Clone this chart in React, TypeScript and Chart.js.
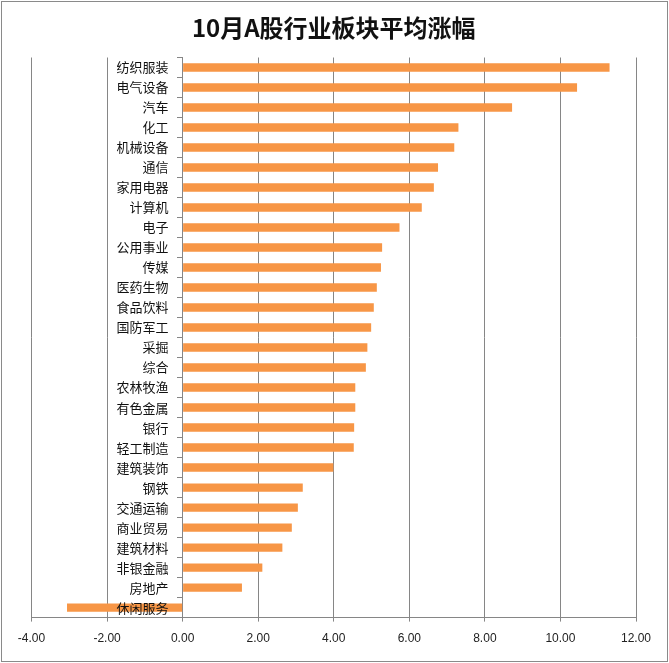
import React, { useEffect, useRef } from "react";
import { Chart, registerables } from "chart.js";

Chart.register(...registerables);

const TITLE = "10月A股行业板块平均涨幅";

const categories = [
  "纺织服装", "电气设备", "汽车", "化工", "机械设备", "通信", "家用电器",
  "计算机", "电子", "公用事业", "传媒", "医药生物", "食品饮料", "国防军工",
  "采掘", "综合", "农林牧渔", "有色金属", "银行", "轻工制造", "建筑装饰",
  "钢铁", "交通运输", "商业贸易", "建筑材料", "非银金融", "房地产", "休闲服务",
];

const values = [
  11.3, 10.44, 8.72, 7.3, 7.19, 6.76, 6.65,
  6.33, 5.74, 5.28, 5.25, 5.14, 5.06, 4.99,
  4.89, 4.85, 4.57, 4.57, 4.54, 4.53, 3.99,
  3.18, 3.05, 2.89, 2.64, 2.11, 1.57, -3.06,
];

const X_MIN = -4;
const X_MAX = 12;
const X_STEP = 2;

const LABEL_FONT = "13px 'Noto Sans CJK SC', sans-serif";
const LABEL_GAP = 14;

const borderPlugin = {
  id: "outerBorder",
  beforeDraw(chart: any) {
    const { ctx, width, height } = chart;
    ctx.save();
    ctx.fillStyle = "#ffffff";
    ctx.fillRect(0, 0, width, height);
    ctx.restore();
  },
  afterDatasetsDraw(chart: any) {
    const { ctx } = chart;
    const xs = chart.scales.x;
    const ys = chart.scales.y;
    const x0 = xs.getPixelForValue(0);
    ctx.save();
    ctx.font = LABEL_FONT;
    ctx.fillStyle = "#111";
    ctx.textAlign = "right";
    ctx.textBaseline = "middle";
    ys.ticks.forEach((_t: any, i: number) => {
      const label = ys.getLabelForValue(i);
      ctx.fillText(label, x0 - LABEL_GAP, ys.getPixelForTick(i));
    });
    ctx.restore();
  },
  afterDraw(chart: any) {
    const { ctx, width, height } = chart;
    ctx.save();
    ctx.strokeStyle = "#8a8a8a";
    ctx.lineWidth = 1;
    ctx.strokeRect(1.5, 1.5, width - 3, height - 3);
    ctx.restore();
  },
};

export default function App() {
  const ref = useRef<HTMLCanvasElement>(null);

  useEffect(() => {
    if (!ref.current) return;
    const chart = new Chart(ref.current, {
      type: "bar",
      data: {
        labels: categories,
        datasets: [
          {
            data: values,
            backgroundColor: "#F79646",
            borderWidth: 0,
            barPercentage: 0.42,
            categoryPercentage: 1,
          },
        ],
      },
      options: {
        indexAxis: "y",
        animation: false,
        responsive: false,
        maintainAspectRatio: false,
        layout: { padding: { left: 31.5, right: 33, top: 0, bottom: 7 } },
        plugins: {
          legend: { display: false },
          tooltip: { enabled: false },
          title: {
            display: true,
            text: TITLE,
            color: "#111",
            font: { family: "'Noto Sans CJK SC', sans-serif", size: 24, weight: "bold", lineHeight: 1.2 },
            padding: { top: 13, bottom: 15.7 },
          },
        },
        scales: {
          x: {
            type: "linear",
            min: X_MIN,
            max: X_MAX,
            ticks: {
              stepSize: X_STEP,
              padding: 10,
              color: "#222",
              font: { family: "'Liberation Sans', sans-serif", size: 12 },
              callback: (v: any) => Number(v).toFixed(2),
            },
            grid: { color: "#868686", lineWidth: 1, drawTicks: true, tickLength: 4 },
            border: { color: "#868686", width: 1 },
          },
          y: {
            type: "category",
            position: { x: 0 } as any,
            ticks: { display: false, autoSkip: false },
            grid: { drawOnChartArea: false, offset: true, drawTicks: true, tickLength: 5, color: "#868686" },
            border: { color: "#868686", width: 1 },
          },
        },
      },
      plugins: [borderPlugin],
    });
    return () => chart.destroy();
  }, []);

  return (
    <div style={{ position: "fixed", left: 0, top: 0, width: 669, height: 663, background: "#fff" }}>
      <canvas ref={ref} width={669} height={663} style={{ width: 669, height: 663, display: "block" }} />
    </div>
  );
}
